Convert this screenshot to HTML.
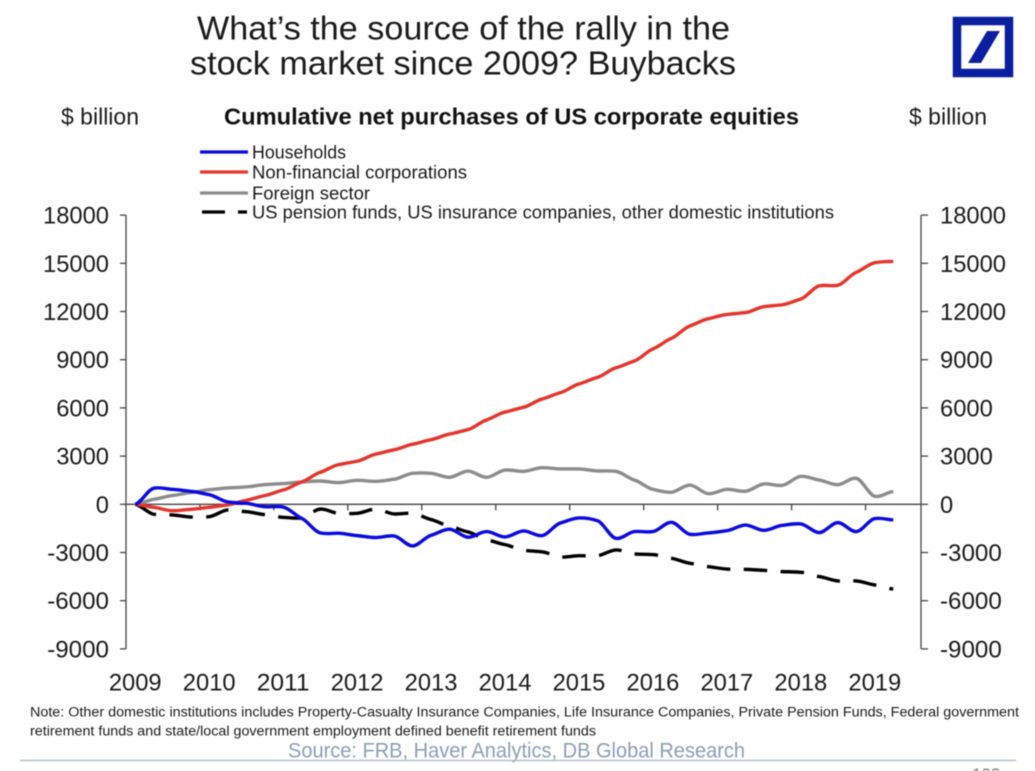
<!DOCTYPE html>
<html lang="en">
<head>
<meta charset="utf-8">
<title>Cumulative net purchases of US corporate equities</title>
<style>
html,body{margin:0;padding:0;background:#fff;}
body{width:1035px;height:771px;overflow:hidden;}
svg{display:block;font-family:"Liberation Sans",Arial,sans-serif;filter:blur(0.45px);}
</style>
</head>
<body>
<svg id="chart" width="1035" height="771" viewBox="0 0 1035 771" xmlns="http://www.w3.org/2000/svg">
  <rect x="0" y="0" width="1035" height="771" fill="#ffffff"/>
  <g fill="#1a1a1a" font-size="33.5">
    <text x="197" y="39.5" textLength="533" lengthAdjust="spacingAndGlyphs">What’s the source of the rally in the</text>
    <text x="190" y="74.5" textLength="546" lengthAdjust="spacingAndGlyphs">stock market since 2009? Buybacks</text>
  </g>
  <g>
    <rect x="957" y="21" width="52" height="52" fill="none" stroke="#0a1fa0" stroke-width="8.5"/>
    <polygon points="987,31 1000,31 981,63 968,63" fill="#0a1fa0"/>
  </g>
  <text x="61" y="124.5" font-size="23" fill="#1a1a1a" textLength="78" lengthAdjust="spacingAndGlyphs">$ billion</text>
  <text x="909" y="124.5" font-size="23" fill="#1a1a1a" textLength="78" lengthAdjust="spacingAndGlyphs">$ billion</text>
  <text x="224" y="124.5" font-size="23.5" font-weight="bold" fill="#111111" textLength="575" lengthAdjust="spacingAndGlyphs">Cumulative net purchases of US corporate equities</text>
  <g font-size="18" fill="#1a1a1a">
    <g>
      <line x1="200" y1="152" x2="248" y2="152" stroke="#0a0ae0" stroke-width="3.2"/>
      <text x="252" y="158.5" textLength="94" lengthAdjust="spacingAndGlyphs">Households</text>
    </g>
    <g>
      <line x1="200" y1="172" x2="248" y2="172" stroke="#e5352b" stroke-width="3.2"/>
      <text x="252" y="178.5" textLength="215" lengthAdjust="spacingAndGlyphs">Non-financial corporations</text>
    </g>
    <g>
      <line x1="200" y1="193" x2="248" y2="193" stroke="#8c8c8c" stroke-width="3.2"/>
      <text x="252" y="199.5" textLength="118" lengthAdjust="spacingAndGlyphs">Foreign sector</text>
    </g>
    <g>
      <line x1="202" y1="212" x2="247" y2="212" stroke="#000000" stroke-width="3.2" stroke-dasharray="23 13"/>
      <text x="252" y="218.5" textLength="582" lengthAdjust="spacingAndGlyphs">US pension funds, US insurance companies, other domestic institutions</text>
    </g>
  </g>
  <g id="axes"></g>
  <g id="series"></g>
  <g font-size="14.2" fill="#1a1a1a">
    <text x="30" y="716.5" textLength="989" lengthAdjust="spacingAndGlyphs">Note: Other domestic institutions includes Property-Casualty Insurance Companies, Life Insurance Companies, Private Pension Funds, Federal government</text>
    <text x="30" y="735.5" textLength="566" lengthAdjust="spacingAndGlyphs">retirement funds and state/local government employment defined benefit retirement funds</text>
  </g>
  <text x="288" y="757.5" font-size="21" fill="#8c9db8" textLength="457" lengthAdjust="spacingAndGlyphs">Source: FRB, Haver Analytics, DB Global Research</text>
  <line x1="20" y1="760.5" x2="1016" y2="760.5" stroke="#b4c0d0" stroke-width="1.5"/>
  <text x="972" y="780" font-size="17" fill="#777777">103</text>
</svg>
<script>
var yearLabels = ["2009","2010","2011","2012","2013","2014","2015","2016","2017","2018","2019"];
var valueTicks = [18000,15000,12000,9000,6000,3000,0,-3000,-6000,-9000];
var households = [0,1000,930,810,600,150,60,-150,-170,-870,-1780,-1800,-1950,-2070,-1970,-2590,-1930,-1550,-2050,-1700,-2030,-1660,-1950,-1160,-850,-1020,-2120,-1700,-1700,-1120,-1870,-1780,-1640,-1290,-1620,-1310,-1220,-1760,-1140,-1700,-890,-970];
var corporations = [0,-190,-400,-310,-190,-40,250,540,890,1390,1990,2470,2680,3120,3390,3740,4020,4370,4650,5250,5740,6035,6550,6950,7490,7900,8500,8920,9670,10330,11100,11550,11820,11930,12300,12420,12780,13600,13630,14440,15040,15120];
var foreignSector = [0,310,540,730,910,1020,1080,1220,1290,1390,1450,1350,1490,1430,1560,1930,1930,1680,2070,1680,2130,2050,2280,2200,2200,2075,2050,1510,930,750,1200,660,930,810,1270,1180,1740,1510,1220,1620,500,790];
var institutions = [0,-620,-660,-790,-770,-350,-460,-640,-810,-850,-300,-560,-560,-300,-600,-560,-950,-1370,-1720,-2200,-2510,-2860,-2960,-3280,-3200,-3200,-2840,-3090,-3130,-3360,-3670,-3880,-4030,-4050,-4110,-4190,-4230,-4500,-4770,-4770,-5020,-5270];

var NS = "http://www.w3.org/2000/svg";
var plotLeft = 126, plotRight = 921, quartersPerYear = 4, quarterCount = 43;
var zeroY = 504.3, pxPerUnit = 48.2 / 3000;
var quarterWidth = (plotRight - plotLeft) / quarterCount;
var digitWidth = 13.2, minusWidth = 9;

function xScale(i) { return plotLeft + quarterWidth * (i + 0.5); }
function yScale(v) { return zeroY - v * pxPerUnit; }
function make(tag, parent, attrs) {
  var el = document.createElementNS(NS, tag);
  for (var k in attrs) { el.setAttribute(k, attrs[k]); }
  parent.appendChild(el);
  return el;
}
function labelLength(text) {
  var digits = text.replace("-", "").length;
  return digits * digitWidth + (text.charAt(0) === "-" ? minusWidth : 0);
}

var axes = document.getElementById("axes");
var seriesGroup = document.getElementById("series");
var axisColor = "#444444";
var top18 = yScale(valueTicks[0]);
var bottom9 = yScale(valueTicks[valueTicks.length - 1]);

var leftAxis = make("line", axes, {x1: plotLeft, y1: top18, x2: plotLeft, y2: bottom9, stroke: axisColor, "stroke-width": 1.3});


var rightAxis = make("line", axes, {x1: plotRight, y1: top18, x2: plotRight, y2: bottom9, stroke: axisColor, "stroke-width": 1.3});


var zeroLine = make("line", axes, {x1: plotLeft, y1: yScale(0), x2: plotRight, y2: yScale(0), stroke: axisColor, "stroke-width": 1.3});



valueTicks.forEach(function (v) {
  var y = yScale(v);
  var text = String(v);
  var lt = make("line", axes, {x1: plotLeft - 6, y1: y, x2: plotLeft, y2: y, stroke: axisColor, "stroke-width": 1.3});
  
  
  var rt = make("line", axes, {x1: plotRight, y1: y, x2: plotRight + 7, y2: y, stroke: axisColor, "stroke-width": 1.3});
  
  
  var ll = make("text", axes, {x: 109 - labelLength(text), y: y + 8.5, "font-size": 24.5, fill: "#1a1a1a", textLength: labelLength(text), lengthAdjust: "spacingAndGlyphs"});
  ll.textContent = text;
  
  
  var rl = make("text", axes, {x: 940, y: y + 8.5, "font-size": 24.5, fill: "#1a1a1a", textLength: labelLength(text), lengthAdjust: "spacingAndGlyphs"});
  rl.textContent = text;
  
  
});

yearLabels.forEach(function (label, i) {
  var first = i * quartersPerYear;
  if (i > 0) {
    var tx = plotLeft + quarterWidth * first;
    var t = make("line", axes, {x1: tx, y1: yScale(0), x2: tx, y2: yScale(0) + 6, stroke: axisColor, "stroke-width": 1.3});
    
    
  }
  var lbl = make("text", axes, {x: xScale(first) - labelLength(label) / 2, y: 690.5, "font-size": 24.5, fill: "#1a1a1a", textLength: labelLength(label), lengthAdjust: "spacingAndGlyphs"});
  lbl.textContent = label;
  
  
});

function pathFor(values) {
  var tension = 0.1;
  var d = "M" + xScale(0).toFixed(2) + " " + yScale(values[0]).toFixed(2);
  for (var i = 0; i < values.length - 1; i++) {
    var prev = values[Math.max(i - 1, 0)], cur = values[i], next = values[i + 1], after = values[Math.min(i + 2, values.length - 1)];
    var c1x = xScale(i) + quarterWidth / 3;
    var c1y = yScale(cur + (next - prev) * tension);
    var c2x = xScale(i + 1) - quarterWidth / 3;
    var c2y = yScale(next - (after - cur) * tension);
    d += " C" + c1x.toFixed(2) + " " + c1y.toFixed(2) + " " + c2x.toFixed(2) + " " + c2y.toFixed(2) + " " + xScale(i + 1).toFixed(2) + " " + yScale(next).toFixed(2);
  }
  return d;
}

var lineForeign = make("path", seriesGroup, {d: pathFor(foreignSector), fill: "none", stroke: "#8c8c8c", "stroke-width": 3.4, "stroke-linejoin": "round"});


var lineInstitutions = make("path", seriesGroup, {d: pathFor(institutions), fill: "none", stroke: "#000000", "stroke-width": 3.4, "stroke-dasharray": "23.5 13.4", "stroke-linejoin": "round"});


var lineCorporations = make("path", seriesGroup, {d: pathFor(corporations), fill: "none", stroke: "#e5352b", "stroke-width": 3.4, "stroke-linejoin": "round"});


var lineHouseholds = make("path", seriesGroup, {d: pathFor(households), fill: "none", stroke: "#0a0ae0", "stroke-width": 3.4, "stroke-linejoin": "round"});


</script>
</body>
</html>
